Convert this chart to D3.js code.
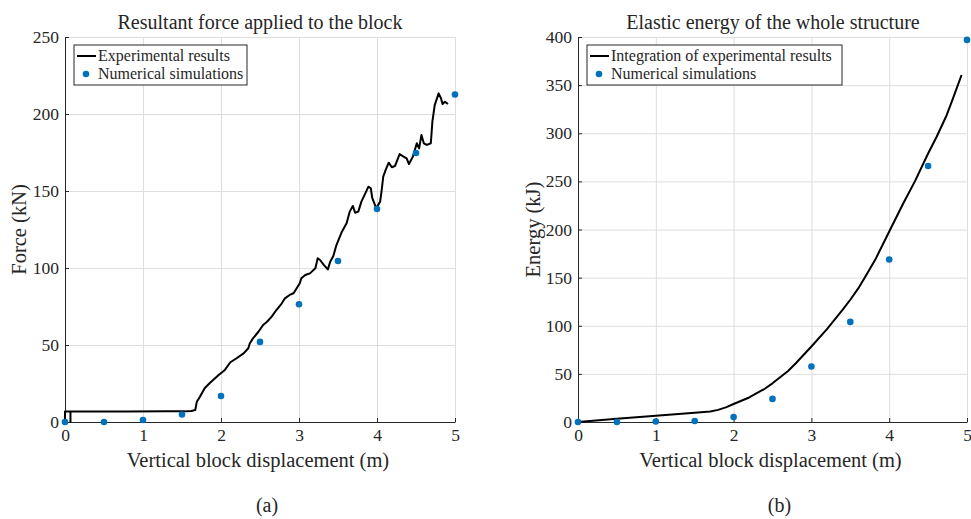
<!DOCTYPE html>
<html lang="en">
<head>
<meta charset="UTF-8"/>
<title>Force and elastic energy</title>
<script src="https://cdn.jsdelivr.net/npm/d3@7"></script>
<style>
  body { margin: 0; background: #fff; }
  svg { display: block; }
  text { font-family: 'Liberation Serif', 'DejaVu Serif', serif; fill: #262626; }
  .axis path, .axis line { stroke: #262626; }
  .grid path { stroke-width: 0; }
  .grid .tick line { stroke: #dedede; stroke-width: 1; }
  text.title { font-size: 20px; }
  text.label { font-size: 20.5px; }
  text.legend { font-size: 16px; }
  text.caption { font-size: 20px; }
</style>
</head>
<body>
<svg width="971" height="519"></svg>
<script>
// simulation abscissae (m)
const simX = [0, 0.5, 1, 1.5, 2, 2.5, 3, 3.5, 4, 4.5, 5];
const simForce = [0, 0, 1.3, 4.9, 16.9, 52, 76.5, 104.5, 138.3, 174.7, 212.7];
const simEnergy = [0, 0, 0.5, 1, 5.2, 24, 57.7, 104, 168.8, 266, 397];

// experimental force curve (m, kN)
const expX = [0, 0, 0.07, 0.07, 0.07, 0.8, 1.3, 1.54, 1.62, 1.67, 1.69, 1.73, 1.79, 1.86, 1.97,
  2.05, 2.12, 2.2, 2.29, 2.35, 2.37, 2.41, 2.48, 2.54, 2.59, 2.65, 2.71, 2.78, 2.82, 2.88,
  2.93, 2.97, 3.01, 3.03, 3.08, 3.14, 3.21, 3.24, 3.27, 3.32, 3.37, 3.4, 3.44, 3.48, 3.55,
  3.61, 3.65, 3.69, 3.72, 3.76, 3.8, 3.85, 3.89, 3.92, 3.94, 3.99, 4.04, 4.06, 4.08, 4.11,
  4.15, 4.19, 4.23, 4.29, 4.33, 4.38, 4.41, 4.46, 4.51, 4.54, 4.57, 4.6, 4.64, 4.69, 4.71,
  4.74, 4.79, 4.82, 4.84, 4.87, 4.91];
const expForce = [0, 6.8, 6.8, 0, 6.8, 6.8, 7, 6.9, 7.1, 7.8, 13.2, 16.4, 21.9, 25.5, 30.5,
  33.8, 38.8, 41.4, 44.6, 47.9, 51.1, 54.3, 58.6, 63, 65.1, 68.4, 72.7, 77.1, 80.3, 82.5,
  83.6, 86.8, 90.1, 93.3, 95.5, 96.5, 99.8, 106.3, 105.2, 101.9, 99.1, 104.1, 107.8, 114.9, 123.6,
  129, 136.6, 140.3, 135.9, 136.6, 143.1, 148.5, 152.8, 151.8, 145.3, 138.8, 143.1, 150.6, 159.3, 163.6,
  168.4, 165.4, 166.2, 174, 172.7, 171.2, 167.5, 172.3, 181, 177.7, 186.4, 181, 179.9, 181, 195,
  205.8, 213.4, 210.2, 206.5, 208, 206.5];

// integrated experimental energy (m, kJ)
const energyX = [0, 0.5, 1, 1.5, 1.7, 1.8, 1.9, 2, 2.2, 2.4, 2.5, 2.7, 2.8, 3, 3.2, 3.4, 3.5,
  3.6, 3.7, 3.82, 4.01, 4.18, 4.33, 4.5, 4.61, 4.74, 4.82, 4.93];
const energyY = [0, 3.4, 6.6, 9.6, 10.9, 12.6, 15.2, 18.7, 25.5, 34.5, 40.2, 53, 61, 78.4, 96.5, 116.5, 127,
  138.5, 152, 168.5, 199.5, 227, 250, 279, 296.4, 319, 336.3, 360.5];

const xTicks = [0, 1, 2, 3, 4, 5];
const forceTicks = [0, 50, 100, 150, 200, 250];
const energyTicks = [0, 50, 100, 150, 200, 250, 300, 350, 400];

const svg = d3.select('svg');
const blue = '#0072BD';
const serif = "'Liberation Serif', 'DejaVu Serif', serif";

function styleAxis(sel) {
  sel.attr('font-family', serif).attr('font-size', 17.5);
  sel.selectAll('.tick text')
    .style('font-family', serif)
    .style('font-size', '17.5px')
    .style('fill', '#262626');
}

function panel(opts) {
  const { left, top, width, height, yMax, yTicks, lineX, lineY, dotY,
    title, titleX, yLabel, yLabelX, legendW, lineName, caption } = opts;

  const x = d3.scaleLinear().domain([0, 5]).range([0, width]);
  const y = d3.scaleLinear().domain([0, yMax]).range([height, 0]);

  const g = svg.append('g').attr('transform', `translate(${left}, ${top})`);

  // grid
  g.append('g').attr('class', 'grid')
    .attr('transform', `translate(0, ${height})`)
    .call(d3.axisBottom(x).tickValues(xTicks).tickSize(-height).tickFormat(''));
  g.append('g').attr('class', 'grid')
    .call(d3.axisLeft(y).tickValues(yTicks).tickSize(-width).tickFormat(''));

  // axes (ticks inward)
  g.append('g').attr('class', 'axis')
    .attr('transform', `translate(0, ${height})`)
    .call(d3.axisBottom(x).tickValues(xTicks).tickSizeInner(-4).tickSizeOuter(0).tickPadding(7).tickFormat(d3.format('d')))
    .call(styleAxis);
  g.append('g').attr('class', 'axis')
    .call(d3.axisLeft(y).tickValues(yTicks).tickSizeInner(-4).tickSizeOuter(0).tickPadding(6).tickFormat(d3.format('d')))
    .call(styleAxis);

  const line = d3.line().x((d, i) => x(lineX[i])).y((d, i) => y(lineY[i]));
  g.append('path')
    .attr('d', line(lineX))
    .attr('fill', 'none')
    .attr('stroke', '#000')
    .attr('stroke-width', 2)
    .attr('stroke-linejoin', 'round');

  g.selectAll('circle.sim')
    .data(simX)
    .enter()
    .append('circle')
    .attr('class', 'sim')
    .attr('cx', d => x(d))
    .attr('cy', (d, i) => y(dotY[i]))
    .attr('r', 3.3)
    .attr('fill', blue);

  // legend
  const lg = g.append('g').attr('transform', 'translate(9, 8)');
  lg.append('rect')
    .attr('width', legendW).attr('height', 40)
    .attr('fill', '#fff').attr('stroke', '#262626').attr('stroke-width', 1);
  lg.append('line')
    .attr('x1', 3).attr('x2', 22).attr('y1', 11).attr('y2', 11)
    .attr('stroke', '#000').attr('stroke-width', 2);
  lg.append('text').attr('class', 'legend')
    .attr('x', 24).attr('y', 16).text(lineName);
  lg.append('circle').attr('cx', 12).attr('cy', 29).attr('r', 3.3).attr('fill', blue);
  lg.append('text').attr('class', 'legend')
    .attr('x', 24).attr('y', 34).text('Numerical simulations');

  svg.append('text').attr('class', 'title')
    .attr('x', titleX).attr('y', 29)
    .attr('text-anchor', 'middle')
    .text(title);

  svg.append('text').attr('class', 'label')
    .attr('transform', `translate(${yLabelX}, ${top + height / 2}) rotate(-90)`)
    .attr('text-anchor', 'middle')
    .text(yLabel);

  svg.append('text').attr('class', 'label')
    .attr('x', left + width / 2 - 2).attr('y', top + height + 45)
    .attr('text-anchor', 'middle')
    .text('Vertical block displacement (m)');

  svg.append('text').attr('class', 'caption')
    .attr('x', left + width / 2 + 7).attr('y', 512)
    .attr('text-anchor', 'middle')
    .text(caption);
}

panel({
  left: 65, top: 37, width: 390, height: 385, yMax: 250, yTicks: forceTicks,
  lineX: expX, lineY: expForce, dotY: simForce,
  title: 'Resultant force applied to the block', titleX: 260,
  yLabel: 'Force (kN)', yLabelX: 26, legendW: 173,
  lineName: 'Experimental results', caption: '(a)'
});

panel({
  left: 578, top: 37, width: 389, height: 385, yMax: 400, yTicks: energyTicks,
  lineX: energyX, lineY: energyY, dotY: simEnergy,
  title: 'Elastic energy of the whole structure', titleX: 773,
  yLabel: 'Energy (kJ)', yLabelX: 540, legendW: 255,
  lineName: 'Integration of experimental results', caption: '(b)'
});
</script>
</body>
</html>
